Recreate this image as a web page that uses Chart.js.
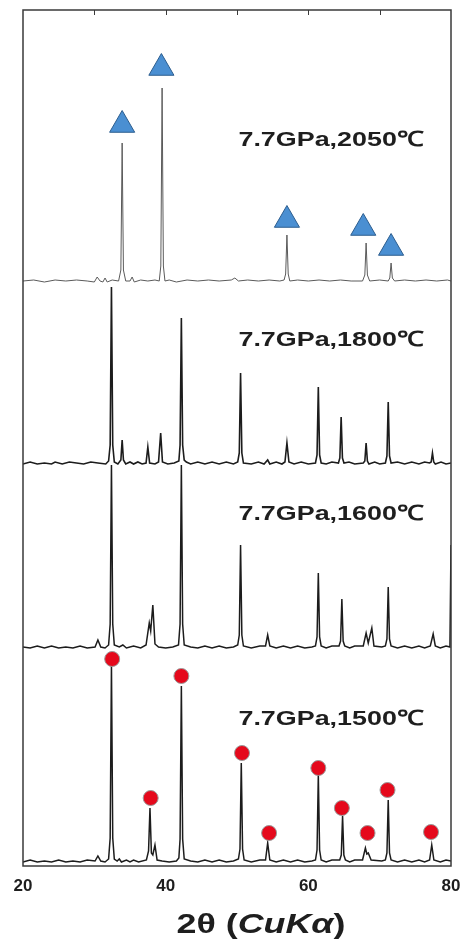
<!DOCTYPE html>
<html>
<head>
<meta charset="utf-8">
<script src="https://cdn.jsdelivr.net/npm/chart.js@4.4.1/dist/chart.umd.min.js"></script>
<style>
  html, body { margin: 0; padding: 0; background: #fff; }
  #xrd { display: block; }
</style>
</head>
<body>
<canvas id="xrd" width="462" height="948"></canvas>
<script>
// ---- data (2θ in degrees, intensity in arbitrary units) ----
var runLabels = ["7.7GPa,2050℃", "7.7GPa,1800℃", "7.7GPa,1600℃", "7.7GPa,1500℃"];

// vertical offset of each pattern in the stack
var runOffsets = [584, 401, 217, 3];

// where each run label sits: [2θ of left edge, height above its own baseline]
var labelAnchors = [[50.2, 144], [50.2, 127], [50.2, 137], [50.2, 146]];

var trace2050 = [
  [20, 1], [21.5, 2], [23, 0], [24.5, 2], [26, 1], [27.5, 2], [29, 1], [30, 0], [30.4, 5], [30.8, 1],
  [31.2, 0], [31.5, 4], [31.8, 0], [32.5, 2], [33.4, 1], [33.72, 12], [33.9, 139], [34.08, 12], [34.4, 1],
  [35.0, 1], [35.3, 5], [35.6, 0], [36.5, 2], [37.5, 1], [38.5, 2], [39.1, 1], [39.32, 16], [39.5, 194],
  [39.68, 16], [39.9, 1], [40.5, 2], [41.5, 0], [43, 2], [44.5, 1], [46, 2], [47.5, 1], [49.2, 2], [49.7, 4],
  [50.2, 1], [51.5, 2], [53, 1], [54.5, 2], [56, 1], [56.6, 2], [56.82, 8], [57.0, 47], [57.18, 8], [57.4, 1],
  [58.5, 2], [60, 1], [61.5, 2], [63, 1], [64.5, 2], [66, 1], [67.6, 1], [67.92, 7], [68.1, 39], [68.28, 7],
  [68.6, 1], [70, 2], [71.2, 1], [71.42, 4], [71.6, 19], [71.78, 4], [72.1, 1], [73.5, 2], [75, 1], [76.5, 2],
  [78, 1], [79.5, 2], [80, 1]
];

var trace1800 = [
  [20, 1], [21, 3], [22, 1], [23, 2], [24, 1], [24.5, 3], [25.5, 1], [26.5, 3], [27.5, 2], [28.5, 1],
  [29.5, 3], [30.5, 2], [31.6, 1], [32.0, 4], [32.22, 20], [32.4, 178], [32.58, 20], [32.8, 3], [33.3, 1],
  [33.72, 5], [33.9, 25], [34.08, 5], [34.4, 1], [35.0, 3], [35.5, 1], [36.1, 3], [36.7, 1], [37.25, 2],
  [37.5, 18], [37.75, 2], [38.5, 1], [39.0, 3], [39.3, 32], [39.55, 3], [40.3, 1], [41.2, 2], [41.85, 4],
  [42.02, 20], [42.2, 147], [42.38, 20], [42.6, 5], [42.9, 3], [43.5, 1], [44.5, 3], [45.5, 1], [46.5, 3],
  [47.5, 1], [48.5, 3], [49.5, 1], [50.1, 3], [50.32, 12], [50.5, 92], [50.68, 12], [50.9, 2], [52, 1],
  [53, 3], [53.8, 1], [54.3, 5], [54.6, 1], [55.5, 3], [56.3, 1], [56.72, 3], [57.0, 22], [57.28, 3], [58, 1],
  [59, 3], [60, 1], [61.0, 2], [61.22, 10], [61.4, 78], [61.58, 10], [61.8, 2], [62.5, 1], [63.3, 3],
  [64.22, 2], [64.42, 7], [64.6, 48], [64.78, 7], [65.0, 2], [65.7, 3], [66.5, 1], [67.7, 2], [67.92, 4],
  [68.1, 22], [68.28, 4], [68.5, 1], [69.3, 3], [70, 1], [70.8, 2], [71.02, 9], [71.2, 63], [71.38, 9],
  [71.6, 2], [72.5, 3], [73.5, 1], [74.5, 3], [75.5, 1], [76.3, 3], [77.0, 2], [77.22, 3], [77.4, 12],
  [77.58, 3], [77.8, 1], [78.6, 3], [79.3, 1], [80, 2]
];

var trace1600 = [
  [20, 2], [21, 1], [22, 3], [23, 1], [24, 3], [25, 1], [26, 2], [27, 1], [28, 3], [29, 1], [30.1, 2],
  [30.5, 9], [30.9, 2], [31.5, 1], [32.0, 4], [32.22, 25], [32.4, 184], [32.58, 25], [32.8, 4], [33.5, 2],
  [34.0, 4], [34.5, 1], [35.5, 3], [36.5, 1], [37.25, 4], [37.7, 26], [37.9, 18], [38.2, 44], [38.5, 5],
  [39, 2], [40, 1], [41, 2], [41.8, 4], [42.02, 25], [42.2, 184], [42.38, 25], [42.6, 4], [43.5, 2], [44.5, 1],
  [45.5, 3], [46.5, 1], [47.5, 3], [48.5, 1], [49.5, 2], [50.1, 4], [50.32, 14], [50.5, 104], [50.68, 14],
  [50.9, 3], [52, 1], [53.2, 3], [54.0, 3], [54.3, 14], [54.6, 3], [55.5, 1], [56.5, 3], [57.5, 1], [58.5, 3],
  [59.5, 1], [60.5, 2], [61.0, 3], [61.22, 12], [61.4, 76], [61.58, 12], [61.8, 3], [62.5, 1], [63.3, 3],
  [64.3, 3], [64.52, 8], [64.7, 50], [64.88, 8], [65.1, 3], [65.8, 1], [66.5, 3], [67.7, 3], [68.1, 16],
  [68.4, 6], [68.9, 21], [69.2, 3], [70.3, 2], [70.8, 3], [71.02, 10], [71.2, 62], [71.38, 10], [71.6, 3],
  [72.5, 1], [73.5, 3], [74.5, 1], [75.5, 3], [76.3, 1], [77.1, 3], [77.5, 15], [77.8, 3], [78.5, 1], [79.3, 3],
  [79.85, 2], [80, 104]
];

var trace1500 = [
  [20, 1], [21, 3], [22, 1], [23, 2], [24, 1], [25, 3], [26, 1], [27, 2], [28, 1], [29, 3], [30.1, 2],
  [30.5, 7], [30.9, 2], [31.5, 1], [32.0, 4], [32.22, 25], [32.4, 198], [32.58, 25], [32.8, 4], [33.2, 2],
  [33.5, 4], [33.8, 1], [34.5, 3], [35.0, 1], [35.5, 3], [36.2, 1], [37.3, 3], [37.6, 12], [37.8, 55],
  [38.0, 10], [38.2, 8], [38.5, 18], [38.8, 3], [39.5, 2], [40.5, 1], [41.5, 2], [41.85, 5], [42.02, 24],
  [42.2, 177], [42.38, 24], [42.6, 4], [43.5, 2], [44.5, 1], [45.5, 3], [46.5, 1], [47.5, 3], [48.5, 1],
  [49.5, 2], [50.2, 4], [50.42, 14], [50.6, 100], [50.78, 14], [51.0, 3], [52, 1], [53.2, 3], [54.0, 3],
  [54.3, 20], [54.6, 3], [55.5, 1], [56.5, 3], [57.5, 1], [58.5, 3], [59.5, 1], [60.5, 2], [61.0, 3],
  [61.22, 13], [61.4, 88], [61.58, 13], [61.8, 3], [62.5, 1], [63.3, 3], [64.4, 3], [64.62, 8], [64.8, 47],
  [64.98, 8], [65.2, 3], [65.8, 1], [66.5, 3], [67.6, 3], [68.0, 15], [68.2, 9], [68.4, 10], [68.8, 3],
  [70.3, 2], [70.8, 3], [71.02, 10], [71.2, 63], [71.38, 10], [71.6, 3], [72.5, 1], [73.5, 3], [74.5, 1],
  [75.5, 3], [76.3, 1], [77.0, 3], [77.3, 18], [77.6, 3], [78.5, 1], [79.3, 3], [80, 2]
];

// phase markers, heights above the baseline of their own pattern
var triangleMarks2050 = [[33.9, 157], [39.4, 214], [57.0, 62], [67.7, 54], [71.6, 34]];
var circleMarks1500 = [[32.5, 204], [37.9, 65], [42.2, 187], [50.7, 110], [54.5, 30],
                       [61.4, 95], [64.7, 55], [68.3, 30], [71.1, 73], [77.2, 31]];

var xTicksMajor = [20, 40, 60, 80];
var xTicksMinor = [30, 40, 50, 60, 70];

// ---- helpers ----
function shift(points, offset) {
  return points.map(function (p) { return { x: p[0], y: p[1] + offset }; });
}

var textStretch = 1.28; // the published figure is stretched sideways

function drawStretched(ctx, pieces, x, y, align) {
  ctx.save();
  var total = 0;
  pieces.forEach(function (p) { ctx.font = p.font; total += ctx.measureText(p.text).width; });
  ctx.translate(x, y);
  ctx.scale(textStretch, 1);
  var cx = align === "center" ? -total / 2 : 0;
  ctx.textAlign = "left";
  ctx.textBaseline = "alphabetic";
  pieces.forEach(function (p) {
    ctx.font = p.font;
    ctx.fillText(p.text, cx, 0);
    cx += ctx.measureText(p.text).width;
  });
  ctx.restore();
}

var xrdDecor = {
  id: "xrdDecor",
  afterDatasetsDraw: function (chart) {
    var ctx = chart.ctx;
    var area = chart.chartArea;
    var xs = chart.scales.x;
    var ys = chart.scales.y;

    // frame with inward ticks on top
    ctx.save();
    ctx.strokeStyle = "#3a3a3a";
    ctx.lineWidth = 1.5;
    ctx.strokeRect(area.left, area.top, area.right - area.left, area.bottom - area.top);
    ctx.lineWidth = 1;
    xTicksMinor.forEach(function (v) {
      var px = Math.round(xs.getPixelForValue(v)) + 0.5;
      ctx.beginPath();
      ctx.moveTo(px, area.top);
      ctx.lineTo(px, area.top + 5);
      ctx.stroke();
    });
    ctx.restore();

    // run labels
    ctx.save();
    ctx.fillStyle = "#1e1e1e";
    runLabels.forEach(function (label, i) {
      var px = xs.getPixelForValue(labelAnchors[i][0]);
      var py = ys.getPixelForValue(runOffsets[i] + labelAnchors[i][1]) + 7.5;
      drawStretched(ctx, [{ text: label, font: "bold 21px 'Liberation Sans', Arial, sans-serif" }], px, py, "left");
    });
    ctx.restore();
  },
  afterDraw: function (chart) {
    var ctx = chart.ctx;
    ctx.save();
    ctx.fillStyle = "#1e1e1e";
    drawStretched(ctx, [
      { text: "2θ (", font: "bold 28px 'Liberation Sans', Arial, sans-serif" },
      { text: "CuKα", font: "italic bold 28px 'Liberation Sans', Arial, sans-serif" },
      { text: ")", font: "bold 28px 'Liberation Sans', Arial, sans-serif" }
    ], 261, 933, "center");
    ctx.restore();
  }
};

var traces = [trace2050, trace1800, trace1600, trace1500];
var traceColors = ["#5a5a5a", "#1c1c1c", "#1c1c1c", "#1c1c1c"];
var traceWidths = [1, 1.6, 1.5, 1.5];

var datasets = [
  {
    label: "triangles",
    data: shift(triangleMarks2050, runOffsets[0]),
    showLine: false,
    pointStyle: "triangle",
    pointRadius: 14.5,
    backgroundColor: "#4a8fd2",
    borderColor: "#2c5d8e",
    borderWidth: 1,
    order: 0
  },
  {
    label: "circles",
    data: shift(circleMarks1500, runOffsets[3]),
    showLine: false,
    pointStyle: "circle",
    pointRadius: 7.5,
    backgroundColor: "#e5091c",
    borderColor: "#9a9a9a",
    borderWidth: 1,
    order: 0
  }
];

traces.forEach(function (t, i) {
  datasets.push({
    label: runLabels[i],
    data: shift(t, runOffsets[i]),
    borderColor: traceColors[i],
    borderWidth: traceWidths[i],
    pointRadius: 0,
    tension: 0,
    fill: false,
    order: 1
  });
});

new Chart(document.getElementById("xrd"), {
  type: "line",
  data: { datasets: datasets },
  plugins: [xrdDecor],
  options: {
    responsive: false,
    animation: false,
    layout: { autoPadding: false, padding: { left: 23, right: 11, top: 10, bottom: 0 } },
    plugins: { legend: { display: false }, tooltip: { enabled: false } },
    scales: {
      x: {
        type: "linear",
        min: 20,
        max: 80,
        grid: { display: false, drawTicks: false },
        border: { display: false },
        afterFit: function (axis) {
          axis.height = 82;
          axis.paddingLeft = 0;
          axis.paddingRight = 0;
        },
        afterBuildTicks: function (axis) {
          axis.ticks = xTicksMajor.map(function (v) { return { value: v }; });
        },
        ticks: {
          padding: 10,
          color: "#1e1e1e",
          font: { family: "'Liberation Sans', Arial, sans-serif", size: 17, weight: "bold" }
        }
      },
      y: {
        type: "linear",
        min: 0,
        max: 856,
        display: false
      }
    }
  }
});
</script>
</body>
</html>
